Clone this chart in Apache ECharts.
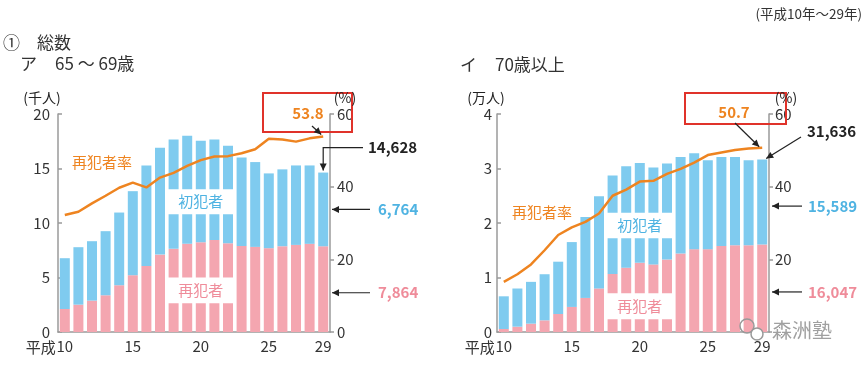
<!DOCTYPE html>
<html><head><meta charset="utf-8">
<script src="https://cdn.jsdelivr.net/npm/echarts@6/dist/echarts.min.js"></script>
<style>html,body{margin:0;padding:0;background:#fff}#c{width:865px;height:372px}</style>
</head><body><div id="c"></div>
<script>
const years = ['10','11','12','13','14','15','16','17','18','19','20','21','22','23','24','25','26','27','28','29'];
const shownYearIdx = [0,5,10,15,19];
// ア 65～69歳 (千人)
const a_repeat = [2.11,2.51,2.88,3.37,4.29,5.21,6.06,7.10,7.63,8.09,8.24,8.45,8.15,7.90,7.81,7.69,7.87,7.99,8.09,7.864];
const a_first  = [4.66,5.27,5.45,5.88,6.67,7.71,9.22,9.80,10.04,9.91,9.31,9.22,8.94,8.12,7.78,6.86,7.05,7.29,7.19,6.764];
const a_rate   = [32.2,33.1,35.4,37.5,39.7,41.1,39.8,42.5,43.8,45.7,47.3,48.3,48.4,49.2,50.3,53.2,53.0,52.4,53.3,53.8];
// イ 70歳以上 (万人)
const b_repeat = [0.055,0.098,0.153,0.214,0.33,0.46,0.625,0.80,1.066,1.18,1.27,1.24,1.33,1.44,1.52,1.52,1.58,1.59,1.59,1.6047];
const b_first  = [0.60,0.70,0.767,0.846,0.96,1.19,1.485,1.69,1.804,1.86,1.83,1.78,1.76,1.77,1.76,1.63,1.63,1.62,1.56,1.5589];
const b_rate   = [13.8,15.9,18.6,22.5,26.7,28.8,30.3,32.6,37.5,39.2,41.4,41.6,43.5,44.9,46.6,48.7,49.4,50.1,50.5,50.7];
const leftTicks = [{max:20, interval:5},{max:4, interval:1}];

const PINK = '#f4a6b0', BLUE = '#7fcbef', ORANGE = '#ee8420', AX = '#9a9a9a';
const FONT = '"Noto Sans CJK JP","Noto Sans",sans-serif';

const chart = echarts.init(document.getElementById('c'));
function xAx(i){return {type:'category', gridIndex:i, data:years,
  axisLine:{lineStyle:{color:AX,width:1.5}}, axisTick:{show:false},
  axisLabel:{interval:(idx)=>shownYearIdx.includes(idx), color:'#333', fontSize:15, fontFamily:FONT, margin:7}};}
function yAx(i, max, interval, right, margin){return {type:'value', gridIndex:i, min:0, max:max, interval:interval,
  position: right?'right':'left',
  axisLine:{show:true, lineStyle:{color:AX,width:1.5}},
  axisTick:{show:true, inside:!right, length:4, lineStyle:{color:AX,width:1.5}},
  splitLine:{show:false},
  axisLabel:{color:'#333', fontSize:15, fontFamily:FONT, margin:margin}};}
function bars(i, rep, first, rate){return [
  {type:'bar', xAxisIndex:i, yAxisIndex:i*2, stack:'s'+i, data:rep, barWidth:10, itemStyle:{color:PINK}},
  {type:'bar', xAxisIndex:i, yAxisIndex:i*2, stack:'s'+i, data:first, barWidth:10, itemStyle:{color:BLUE}},
  {type:'line', xAxisIndex:i, yAxisIndex:i*2+1, data:rate, symbol:'none', z:5, lineStyle:{color:ORANGE,width:2.5}}
];}

chart.setOption({
  animation:false,
  grid:[{left:58, right:535, top:114, bottom:40},{left:497, right:96, top:114, bottom:40}],
  xAxis:[xAx(0), xAx(1)],
  yAxis:[yAx(0,leftTicks[0].max,leftTicks[0].interval,false,8), yAx(0,60,20,true,7),
         yAx(1,leftTicks[1].max,leftTicks[1].interval,false,5), yAx(1,60,20,true,6)],
  series:[...bars(0,a_repeat,a_first,a_rate), ...bars(1,b_repeat,b_first,b_rate)]
});

function P(gi, x, y){return chart.convertToPixel({xAxisIndex:gi, yAxisIndex:gi*2}, [x,y]);}
function PR(gi, x, y){return chart.convertToPixel({xAxisIndex:gi, yAxisIndex:gi*2+1}, [x,y]);}
const G = [];
function txt(x,y,s,opt){G.push({type:'text', x:x, y:y, z:100, style:Object.assign({text:s, fill:'#222', fontSize:15, fontFamily:FONT, textAlign:'left', textVerticalAlign:'middle'}, opt||{})});}
function arrow(pts){
  G.push({type:'polyline', z:100, shape:{points:pts}, style:{stroke:'#222', lineWidth:1.2, fill:null}});
  const a = pts[pts.length-2], b = pts[pts.length-1];
  const dx=b[0]-a[0], dy=b[1]-a[1], L=Math.hypot(dx,dy), ux=dx/L, uy=dy/L;
  const s=7, w=3.5;
  G.push({type:'polygon', z:100, shape:{points:[[b[0],b[1]],[b[0]-ux*s-uy*w,b[1]-uy*s+ux*w],[b[0]-ux*s+uy*w,b[1]-uy*s-ux*w]]}, style:{fill:'#222'}});
}

// white bands with labels
const bands = [[[10.8,13.1],[2.64,5.0]],[[1.72,2.19],[0.233,0.71]]];
[0,1].forEach(gi=>{
  const xL = P(gi,8,0)[0]-6.5, xR = P(gi,12,0)[0]+6.5, xc = P(gi,10,0)[0];
  bands[gi].forEach((bd,k)=>{
    const yT = P(gi,0,bd[1])[1], yB = P(gi,0,bd[0])[1];
    G.push({type:'rect', z:50, shape:{x:xL, y:yT, width:xR-xL, height:yB-yT}, style:{fill:'#fff'}});
    txt(xc,(yT+yB)/2, k===0?'初犯者':'再犯者', {fill:k===0?'#4fb3e2':'#ef8c9a', textAlign:'center', fontSize:15});
  });
  // 平成 prefix
  const x0 = P(gi,0,0);
  txt(x0[0]-9, x0[1]+15, '平成', {textAlign:'right', fill:'#333'});
});

// titles
txt(862,14,'(平成10年～29年)',{textAlign:'right', fontSize:13.5, fill:'#333'});
txt(3,43,'①',{fontSize:17, fill:'#333'});
txt(37,43,'総数',{fontSize:17, fill:'#333'});
txt(20,64,'ア',{fontSize:17, fill:'#333'});
txt(55,64,'65 ～ 69歳',{fontSize:17, fill:'#333'});
txt(460,65,'イ',{fontSize:17, fill:'#333'});
txt(495,65,'70歳以上',{fontSize:17, fill:'#333'});
txt(42,98,'(千人)',{textAlign:'center', fontSize:14});
txt(345,98,'(%)',{textAlign:'center', fontSize:14});
txt(486,98,'(万人)',{textAlign:'center', fontSize:14});
txt(786,98,'(%)',{textAlign:'center', fontSize:14});
txt(102,162,'再犯者率',{textAlign:'center', fill:ORANGE});
txt(542,212,'再犯者率',{textAlign:'center', fill:ORANGE});

// Left annotations
(function(){
  const last = 19, top = P(0,last,a_repeat[last]+a_first[last]);
  const cx = top[0];
  const yh = top[1]-25;
  txt(368, yh, '14,628', {fontWeight:'bold', fontSize:15});
  arrow([[363,yh],[cx,yh],[cx,top[1]-2]]);
  const yb = P(0,last,a_repeat[last]+a_first[last]/2)[1];
  txt(378, yb, '6,764', {fontWeight:'bold', fill:'#4fb3e2', fontSize:15});
  arrow([[370,yb],[332,yb]]);
  const yp = P(0,last,3.6)[1];
  txt(378, yp, '7,864', {fontWeight:'bold', fill:'#ef8c9a', fontSize:15});
  arrow([[370,yp],[332,yp]]);
  G.push({type:'rect', z:90, shape:{x:263, y:93, width:89, height:39}, style:{fill:null, stroke:'#e0322a', lineWidth:2}});
  txt(308,113,'53.8',{fontWeight:'bold', fill:ORANGE, textAlign:'center', fontSize:15});
  const le = PR(0,last,a_rate[last]);
  arrow([[312,126],[le[0]-2,le[1]-2]]);
})();
// Right annotations
(function(){
  const last = 19, top = P(1,last,b_repeat[last]+b_first[last]);
  txt(807, 131, '31,636', {fontWeight:'bold', fontSize:15});
  arrow([[801,137],[top[0]+4,top[1]-1]]);
  const yb = P(1,last,2.31)[1];
  txt(808, yb, '15,589', {fontWeight:'bold', fill:'#4fb3e2', fontSize:15});
  arrow([[802,yb],[772,yb]]);
  const yp = P(1,last,0.735)[1];
  txt(808, yp, '16,047', {fontWeight:'bold', fill:'#ef8c9a', fontSize:15});
  arrow([[802,yp],[772,yp]]);
  G.push({type:'rect', z:90, shape:{x:685, y:93, width:101, height:31}, style:{fill:null, stroke:'#e0322a', lineWidth:2}});
  txt(734,112,'50.7',{fontWeight:'bold', fill:ORANGE, textAlign:'center', fontSize:15});
  const le = PR(1,last,b_rate[last]);
  arrow([[735,123],[le[0]-3,le[1]-1]]);
})();
// watermark
G.push({type:'circle', z:110, shape:{cx:747, cy:326, r:7}, style:{fill:null, stroke:'#999', lineWidth:1.5}});
G.push({type:'circle', z:110, shape:{cx:757, cy:334, r:6}, style:{fill:'#fff', stroke:'#999', lineWidth:1.5}});
txt(772,330,'森洲塾',{fill:'#a0a0a0', fontSize:20, stroke:'#fff', lineWidth:2});

chart.setOption({graphic:G});
</script></body></html>
